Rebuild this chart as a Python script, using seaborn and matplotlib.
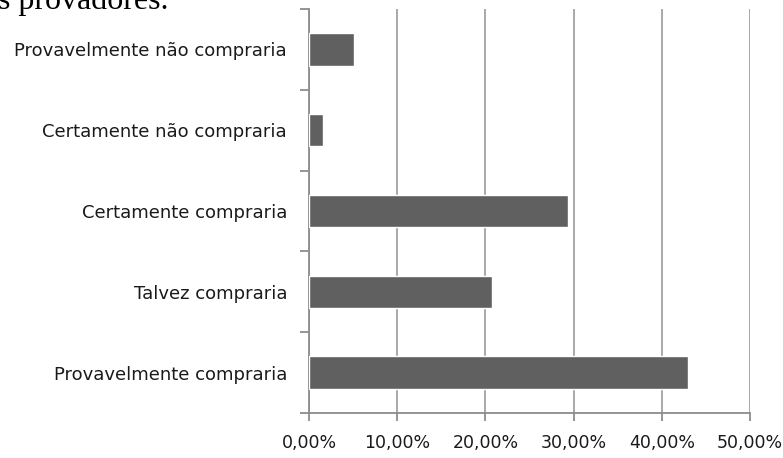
import matplotlib
matplotlib.use("Agg")
import matplotlib.pyplot as plt
from matplotlib.ticker import FuncFormatter, FixedLocator
import seaborn as sns
import pandas as pd

# Intenção de compra declarada pelos provadores (%)
categorias = [
    "Provavelmente não compraria",
    "Certamente não compraria",
    "Certamente compraria",
    "Talvez compraria",
    "Provavelmente compraria",
]
percentuais = [5.1, 1.6, 29.4, 20.7, 43.0]
ticks_x = [0, 10, 20, 30, 40, 50]

df = pd.DataFrame({"categoria": categorias, "percentual": percentuais})

sns.set_theme(style="white")
plt.rcParams["font.family"] = ["DejaVu Sans"]

fig = plt.figure(figsize=(7.83, 4.58), dpi=100)
ax = fig.add_axes([309 / 783, 1 - 413 / 458, (750 - 309) / 783, (413 - 9) / 458])

sns.barplot(data=df, x="percentual", y="categoria", orient="h",
            color="#606060", width=0.4, saturation=1, ax=ax, zorder=3)

ax.set_xlim(0, 50)
ax.set_ylim(len(categorias) - 0.5, -0.5)
ax.xaxis.set_major_locator(FixedLocator(ticks_x))
ax.xaxis.set_major_formatter(FuncFormatter(lambda v, p: f"{v:.2f}%".replace(".", ",")))
ax.set_xlabel("")
ax.set_ylabel("")

# linhas de grade verticais
ax.grid(axis="x", color="#a3a3a3", linewidth=1.3, zorder=0)
ax.grid(axis="y", visible=False)

for s in ("top", "right"):
    ax.spines[s].set_visible(False)
for s in ("left", "bottom"):
    ax.spines[s].set_color("#8c8c8c")
    ax.spines[s].set_linewidth(1.3)

# marcas do eixo y nos limites entre categorias
ax.yaxis.set_minor_locator(FixedLocator([i - 0.5 for i in range(len(categorias) + 1)]))
ax.tick_params(axis="y", which="major", length=0, pad=15.8, labelsize=13, labelcolor="#1a1a1a")
ax.tick_params(axis="y", which="minor", length=6.5, width=1.3, color="#8c8c8c", left=True)
ax.tick_params(axis="x", which="major", length=5.8, width=1.3, color="#8c8c8c",
               bottom=True, pad=9, labelsize=12.5, labelcolor="#1a1a1a")

fig.text(-0.002, 1 - 9 / 458, "s provadores.", family="Liberation Serif",
         fontsize=23, va="baseline", ha="left", color="black")

fig.savefig("out.png", dpi=100)
